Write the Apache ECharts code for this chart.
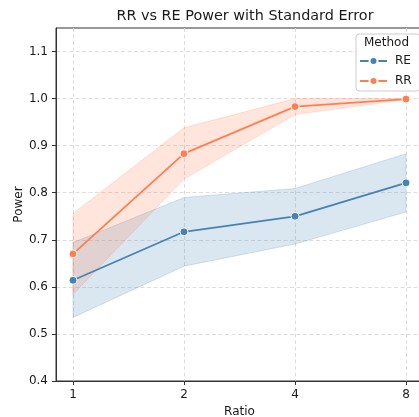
<!DOCTYPE html>
<html>
<head>
<meta charset="utf-8">
<script src="https://cdn.jsdelivr.net/npm/echarts@6/dist/echarts.min.js"></script>
<style>
  html, body { margin: 0; padding: 0; background: #fff; }
  #chart { width: 419px; height: 417px; }
</style>
</head>
<body>
<div id="chart"></div>
<script>
// Ratio levels (plotted on a log2 scale, evenly spaced)
const ratios = [1, 2, 4, 8];

// RE: mean power and mean ± standard error
const reMean  = [0.614, 0.717, 0.750, 0.821];
const reLower = [0.535, 0.644, 0.691, 0.759];
const reUpper = [0.694, 0.790, 0.809, 0.883];

// RR: mean power and mean ± standard error
const rrMean  = [0.670, 0.883, 0.983, 0.999];
const rrLower = [0.584, 0.829, 0.966, 0.998];
const rrUpper = [0.756, 0.938, 1.000, 1.000];

// Axis tick values
const xTickRatios = [1, 2, 4, 8];
const yTicks = [0.4, 0.5, 0.6, 0.7, 0.8, 0.9, 1.0, 1.1];

const FONT = 'DejaVu Sans';
const BLUE = '#4682b4';
const ORANGE = '#ff7f50';
const INK = '#1a1a1a';

const xs = ratios.map(r => Math.log2(r));
const xTicks = xTickRatios.map(r => Math.log2(r));

function band(name, lower, upper, fill) {
  return {
    type: 'custom',
    name: name,
    z: 1,
    silent: true,
    data: xs.map((x, i) => [x, lower[i], upper[i]]),
    encode: { x: 0, y: [1, 2] },
    renderItem: function (params, api) {
      if (params.dataIndex !== 0) return null;
      const pts = [];
      for (let i = 0; i < xs.length; i++) pts.push(api.coord([xs[i], upper[i]]));
      for (let i = xs.length - 1; i >= 0; i--) pts.push(api.coord([xs[i], lower[i]]));
      return {
        type: 'polygon',
        shape: { points: pts },
        style: { fill: fill, stroke: fill, lineWidth: 1 }
      };
    }
  };
}

function meanLine(name, mean, color) {
  return {
    type: 'line',
    name: name,
    z: 3,
    data: xs.map((x, i) => [x, mean[i]]),
    symbol: 'circle',
    symbolSize: 8,
    lineStyle: { color: color, width: 1.8 },
    itemStyle: { color: color, borderColor: '#fff', borderWidth: 1 }
  };
}

const chart = echarts.init(document.getElementById('chart'), null, { renderer: 'canvas' });

chart.setOption({
  animation: false,
  backgroundColor: '#fff',
  textStyle: { fontFamily: FONT },
  title: {
    text: 'RR vs RE Power with Standard Error',
    left: 240,
    top: 4,
    textAlign: 'center',
    textStyle: { fontFamily: FONT, fontSize: 14.4, fontWeight: 'normal', color: INK }
  },
  grid: {
    left: 56, right: -4, top: 28, bottom: 36,
    containLabel: false,
    outerBoundsMode: 'none',
    show: true, borderColor: '#333', borderWidth: 1, backgroundColor: 'transparent'
  },
  xAxis: {
    type: 'value',
    min: -0.153,
    max: 3.153,
    name: 'Ratio',
    nameLocation: 'middle',
    nameGap: 25,
    nameMoveOverlap: false,
    nameTextStyle: { fontFamily: FONT, fontSize: 12, color: INK },
    axisLine: { show: true, onZero: false, lineStyle: { color: '#333', width: 1 } },
    axisTick: { show: true, length: 4, customValues: xTicks, lineStyle: { color: '#333' } },
    axisLabel: {
      customValues: xTicks,
      margin: 8,
      fontFamily: FONT, fontSize: 12, color: INK,
      formatter: v => String(Math.round(Math.pow(2, v)))
    },
    splitLine: { show: true, lineStyle: { color: '#d6d6d6', width: 0.8, type: [4, 2.5] } }
  },
  yAxis: {
    type: 'value',
    min: 0.4,
    max: 1.15,
    name: 'Power',
    nameLocation: 'middle',
    nameGap: 31,
    nameMoveOverlap: false,
    nameTextStyle: { fontFamily: FONT, fontSize: 12, color: INK },
    axisLine: { show: true, onZero: false, lineStyle: { color: '#333', width: 1 } },
    axisTick: { show: true, length: 4, customValues: yTicks, lineStyle: { color: '#333' } },
    axisLabel: {
      customValues: yTicks,
      margin: 8,
      fontFamily: FONT, fontSize: 12, color: INK,
      formatter: v => v.toFixed(1)
    },
    splitLine: { show: true, lineStyle: { color: '#d6d6d6', width: 0.8, type: [4, 2.5] } }
  },
  legend: {
    data: ['RE', 'RR'],
    orient: 'vertical',
    left: 356,
    top: 34,
    padding: [21, 8, 4, 3],
    itemWidth: 27,
    itemHeight: 10,
    itemGap: 8,
    backgroundColor: 'rgba(255,255,255,0.85)',
    borderColor: '#cccccc',
    borderWidth: 1,
    borderRadius: 3,
    textStyle: { fontFamily: FONT, fontSize: 12, color: INK, padding: [0, 0, 0, 3] }
  },
  graphic: [{
    type: 'text',
    z: 100,
    left: 364,
    top: 37,
    style: { text: 'Method', font: '12px "DejaVu Sans"', fill: INK }
  }],
  series: [
    band('RE band', reLower, reUpper, 'rgba(70,130,180,0.2)'),
    band('RR band', rrLower, rrUpper, 'rgba(255,127,80,0.2)'),
    meanLine('RE', reMean, BLUE),
    meanLine('RR', rrMean, ORANGE)
  ]
});
</script>
</body>
</html>
